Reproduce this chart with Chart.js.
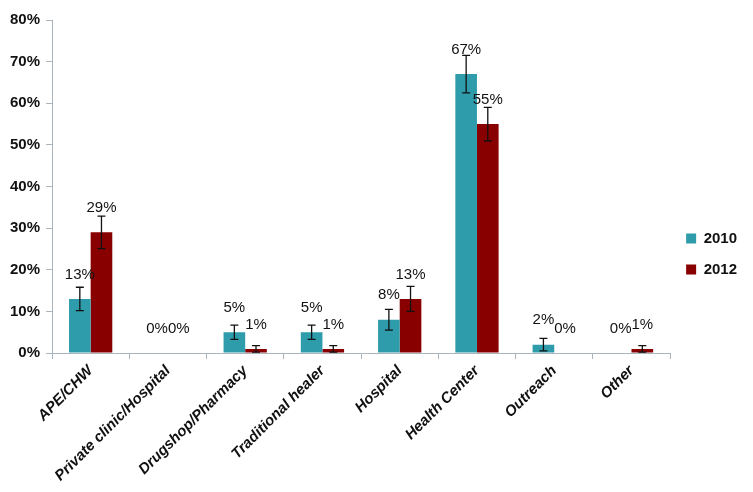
<!DOCTYPE html>
<html>
<head>
<meta charset="utf-8">
<script src="https://cdn.jsdelivr.net/npm/chart.js@4/dist/chart.umd.min.js"></script>
<style>
  html, body { margin: 0; padding: 0; background: #fff; }
  #wrap { width: 753px; height: 492px; }
</style>
</head>
<body>
<div id="wrap"><canvas id="careChart"></canvas></div>
<script>
const categories = ["APE/CHW", "Private clinic/Hospital", "Drugshop/Pharmacy", "Traditional healer",
    "Hospital", "Health Center", "Outreach", "Other"];
const values2010 = [13, 0, 5, 5, 8, 67, 2, 0];
const values2012 = [29, 0, 1, 1, 13, 55, 0, 1];
const err2010 = [2.8, 0, 1.7, 1.7, 2.5, 4.5, 1.5, 0];
const err2012 = [3.9, 0, 0.8, 0.8, 3, 4, 0, 0.8];
const yTicks = [0, 10, 20, 30, 40, 50, 60, 70, 80];

const errors = [err2010, err2012];
const FONT = "'Liberation Sans', Arial, sans-serif";

const errorBarsPlugin = {
    id: "errorBars",
    afterDatasetsDraw(chart) {
        const ctx = chart.ctx;
        const y = chart.scales.y;
        ctx.save();
        ctx.strokeStyle = "#111";
        ctx.lineWidth = 1.3;
        chart.data.datasets.forEach((ds, i) => {
            const meta = chart.getDatasetMeta(i);
            meta.data.forEach((bar, j) => {
                const e = errors[i][j];
                if (!e) return;
                const top = y.getPixelForValue(ds.data[j] + e);
                const bot = y.getPixelForValue(Math.max(0, ds.data[j] - e));
                ctx.beginPath();
                ctx.moveTo(bar.x, top); ctx.lineTo(bar.x, bot);
                ctx.moveTo(bar.x - 4, top); ctx.lineTo(bar.x + 4, top);
                ctx.moveTo(bar.x - 4, bot); ctx.lineTo(bar.x + 4, bot);
                ctx.stroke();
            });
        });
        // value labels
        ctx.fillStyle = "#111";
        ctx.font = "15px " + FONT;
        ctx.textAlign = "center";
        ctx.textBaseline = "bottom";
        chart.data.datasets.forEach((ds, i) => {
            const meta = chart.getDatasetMeta(i);
            meta.data.forEach((bar, j) => {
                ctx.fillText(ds.data[j] + "%", bar.x, bar.y - 17);
            });
        });
        ctx.restore();
    }
};

new Chart(document.getElementById("careChart"), {
    type: "bar",
    data: {
        labels: categories,
        datasets: [{
            label: "2010",
            data: values2010,
            backgroundColor: "#2e9cab"
        }, {
            label: "2012",
            data: values2012,
            backgroundColor: "#880000"
        }]
    },
    options: {
        responsive: true,
        maintainAspectRatio: false,
        animation: false,
        layout: { padding: { top: 20, right: 6, left: 4, bottom: 4 } },
        datasets: {
            bar: { barPercentage: 1, categoryPercentage: 0.56 }
        },
        plugins: {
            legend: {
                position: "right",
                labels: {
                    boxWidth: 10,
                    boxHeight: 10,
                    padding: 16,
                    color: "#111",
                    font: { family: FONT, size: 15, weight: "bold" }
                }
            },
            tooltip: { enabled: false }
        },
        scales: {
            x: {
                grid: { display: true, drawOnChartArea: false, offset: true, color: "#aab4bc", tickLength: 6 },
                border: { color: "#aab4bc" },
                ticks: {
                    minRotation: 45,
                    maxRotation: 45,
                    color: "#111",
                    font: { family: FONT, size: 15, weight: "bold", style: "italic" }
                }
            },
            y: {
                min: 0,
                max: 80,
                afterBuildTicks: (scale) => { scale.ticks = yTicks.map(v => ({ value: v })); },
                grid: { display: true, drawOnChartArea: false, color: "#aab4bc", tickLength: 6 },
                border: { color: "#aab4bc" },
                ticks: {
                    color: "#111",
                    padding: 6,
                    callback: (v) => v + "%",
                    font: { family: FONT, size: 15, weight: "bold" }
                }
            }
        }
    },
    plugins: [errorBarsPlugin]
});
</script>
</body>
</html>
